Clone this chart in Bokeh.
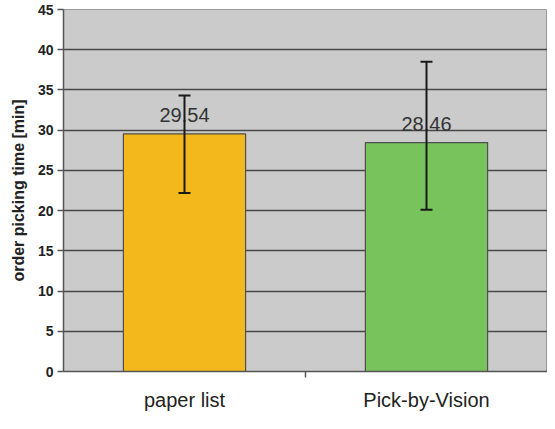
from bokeh.plotting import figure
from bokeh.models import ColumnDataSource, FixedTicker, Whisker, TeeHead, Range1d
from bokeh.embed import file_html
from bokeh.resources import INLINE
from bokeh.core.properties import value

# ---- data ----
categories = ["paper list", "Pick-by-Vision"]
means = [29.54, 28.46]
err_upper = [34.3, 38.5]
err_lower = [22.2, 20.1]
bar_colors = ["#F2B81C", "#78C35C"]
value_labels = ["29.54", "28.46"]
y_ticks = [0, 5, 10, 15, 20, 25, 30, 35, 40, 45]

xpos = [i + 0.5 for i in range(len(categories))]
src = ColumnDataSource(dict(x=xpos, top=means, upper=err_upper, lower=err_lower,
                            color=bar_colors, label=value_labels))

p = figure(width=547, height=413, output_backend="svg", toolbar_location=None,
           x_range=Range1d(0, len(categories)), y_range=Range1d(0, 45),
           min_border_left=63, min_border_right=0, min_border_top=9, min_border_bottom=41)

p.background_fill_color = "#CBCBCB"
p.border_fill_color = "white"
p.outline_line_color = "#9a9a9a"

p.vbar(x="x", top="top", width=0.505, bottom=0, source=src, fill_color="color",
       line_color="#4f4f4f", line_width=1.2)

p.text(x="x", y="top", text="label", source=src, text_align="center",
       text_baseline="alphabetic", y_offset=-19, text_font=value("Liberation Sans"),
       text_font_size="20px", text_color="#333333")

w = Whisker(source=src, base="x", upper="upper", lower="lower", level="overlay",
            line_color="#1a1a1a", line_width=2,
            upper_head=TeeHead(size=12, line_color="#1a1a1a", line_width=2),
            lower_head=TeeHead(size=12, line_color="#1a1a1a", line_width=2))
p.add_layout(w)

# grid
p.xgrid.grid_line_color = None
p.ygrid.ticker = FixedTicker(ticks=y_ticks)
p.ygrid.grid_line_color = "#484848"
p.ygrid.grid_line_width = 1.6

# y axis
p.yaxis.ticker = FixedTicker(ticks=y_ticks)
p.yaxis.axis_label = "order picking time [min]"
p.yaxis.axis_label_text_font = "Liberation Sans"
p.yaxis.axis_label_text_font_style = "bold"
p.yaxis.axis_label_text_font_size = "16px"
p.yaxis.axis_label_text_color = "#222222"
p.yaxis.axis_label_standoff = 8
p.yaxis.major_label_text_font = "Liberation Sans"
p.yaxis.major_label_text_font_style = "bold"
p.yaxis.major_label_text_font_size = "14px"
p.yaxis.major_label_text_color = "#222222"
p.yaxis.major_label_standoff = 4
p.yaxis.major_tick_out = 6
p.yaxis.major_tick_in = 0
p.yaxis.minor_tick_line_color = None
p.yaxis.axis_line_color = "#555555"
p.yaxis.axis_line_width = 1.5
p.yaxis.major_tick_line_color = "#555555"
p.yaxis.major_tick_line_width = 1.5

# x axis: labels at category centres, tick at boundary
p.xaxis.ticker = FixedTicker(ticks=xpos, minor_ticks=[1.0])
p.xaxis.major_label_overrides = {xv: c for xv, c in zip(xpos, categories)}
p.xaxis.major_tick_line_color = None
p.xaxis.minor_tick_out = 6
p.xaxis.minor_tick_in = 0
p.xaxis.minor_tick_line_color = "#555555"
p.xaxis.minor_tick_line_width = 1.5
p.xaxis.axis_line_color = "#555555"
p.xaxis.axis_line_width = 1.5
p.xaxis.major_label_text_font = "Liberation Sans"
p.xaxis.major_label_text_font_size = "20px"
p.xaxis.major_label_text_color = "#222222"
p.xaxis.major_label_standoff = 11

open("out.html", "w").write(file_html(p, INLINE))
